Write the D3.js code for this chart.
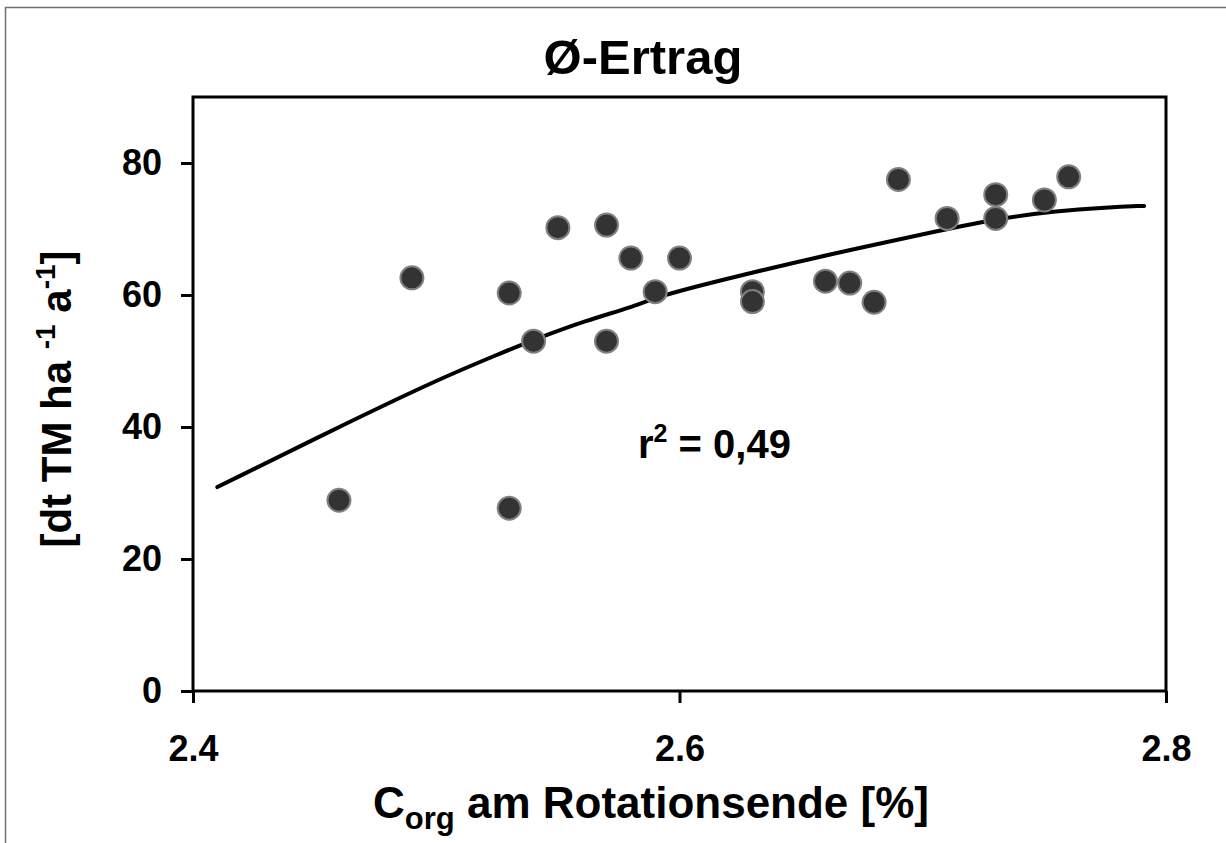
<!DOCTYPE html>
<html>
<head>
<meta charset="utf-8">
<script src="https://cdn.jsdelivr.net/npm/d3@7"></script>
<style>
  body { margin: 0; background: #fff; }
  svg { display: block; font-family: "Liberation Sans", Arial, sans-serif; font-weight: bold; }
</style>
</head>
<body>
<svg id="chart"></svg>
<script>
// measured points: C_org (%) and mean yield (dt TM/ha/a)
var corg = [2.46, 2.49, 2.53, 2.53, 2.54, 2.55, 2.57, 2.57, 2.58, 2.59, 2.60,
            2.63, 2.63, 2.66, 2.67, 2.68, 2.69, 2.71, 2.73, 2.73, 2.75, 2.76];
var ertrag = [28.9, 62.6, 60.3, 27.7, 53.0, 70.2, 70.6, 53.0, 65.6, 60.5, 65.6,
              60.5, 59.0, 62.1, 61.8, 58.9, 77.5, 71.6, 75.2, 71.6, 74.4, 77.9];

// trend line
var trendX = [2.410, 2.466, 2.502, 2.526, 2.540, 2.562, 2.581, 2.591, 2.622,
              2.662, 2.710, 2.730, 2.754, 2.776, 2.791];
var trendY = [30.9, 41.1, 47.4, 51.1, 53.2, 56.2, 58.2, 59.8, 62.7,
              66.2, 70.0, 71.5, 72.7, 73.3, 73.5];

var xTicks = [2.4, 2.6, 2.8];
var yTicks = [0, 20, 40, 60, 80];

var canvasWidth = 1226;
var canvasHeight = 843;

var svg = d3.select('#chart')
  .attr('width', canvasWidth)
  .attr('height', canvasHeight);

// outer chart border (only left/top visible)
svg.append('rect')
  .attr('x', 5.5).attr('y', 7.5)
  .attr('width', 1300).attr('height', 900)
  .attr('fill', 'none')
  .attr('stroke', '#707070')
  .attr('stroke-width', 1.5);

var xScale = d3.scaleLinear().domain([2.4, 2.8]).range([193, 1166]);
var yScale = d3.scaleLinear().domain([0, 90]).range([691, 97]);

// plot frame
svg.append('rect')
  .attr('x', xScale(2.4)).attr('y', yScale(90))
  .attr('width', xScale(2.8) - xScale(2.4))
  .attr('height', yScale(0) - yScale(90))
  .attr('fill', 'none')
  .attr('stroke', '#000')
  .attr('stroke-width', 3);

// axes
var xAxis = svg.append('g')
  .attr('transform', 'translate(0,' + yScale(0) + ')')
  .call(d3.axisBottom(xScale).tickValues(xTicks).tickSize(12).tickPadding(32)
        .tickFormat(d3.format('.1f')));
var yAxis = svg.append('g')
  .attr('transform', 'translate(' + xScale(2.4) + ',0)')
  .call(d3.axisLeft(yScale).tickValues(yTicks).tickSize(12).tickPadding(19));

[xAxis, yAxis].forEach(function(g) {
  g.select('.domain').remove();
  g.selectAll('.tick line').attr('stroke', '#000').attr('stroke-width', 3);
  g.selectAll('.tick text')
    .attr('fill', '#000')
    .style('font-family', '"Liberation Sans", Arial, sans-serif')
    .style('font-weight', 'bold')
    .style('font-size', '36px');
});

// trend line
var trend = trendX.map(function(d, i) { return [d, trendY[i]]; });
svg.append('path')
  .datum(trend)
  .attr('fill', 'none')
  .attr('stroke', '#000')
  .attr('stroke-width', 4)
  .attr('stroke-linecap', 'round')
  .attr('stroke-linejoin', 'round')
  .attr('d', d3.line()
    .x(function(d) { return xScale(d[0]); })
    .y(function(d) { return yScale(d[1]); })
    .curve(d3.curveBasis));

// points
svg.append('g')
  .selectAll('circle')
  .data(corg)
  .enter()
  .append('circle')
  .attr('cx', function(d) { return xScale(d); })
  .attr('cy', function(d, i) { return yScale(ertrag[i]); })
  .attr('r', 11.5)
  .attr('fill', '#333333')
  .attr('stroke', '#808080')
  .attr('stroke-width', 2);

// title
svg.append('text')
  .attr('x', 643)
  .attr('y', 74)
  .attr('text-anchor', 'middle')
  .style('font-size', '49px')
  .text('Ø-Ertrag');

// r² label
var r2 = svg.append('text')
  .attr('x', 638)
  .attr('y', 458)
  .style('font-size', '40px');
r2.append('tspan').text('r');
r2.append('tspan').attr('dy', -16).style('font-size', '25px').text('2');
r2.append('tspan').attr('dy', 16).text(' = 0,49');

// x axis title
var xt = svg.append('text')
  .attr('x', 651)
  .attr('y', 818)
  .attr('text-anchor', 'middle')
  .style('font-size', '44px');
xt.append('tspan').text('C');
xt.append('tspan').attr('dy', 11).style('font-size', '31px').text('org');
xt.append('tspan').attr('dy', -11).text(' am Rotationsende [%]');

// y axis title
var yt = svg.append('text')
  .attr('transform', 'translate(71,399) rotate(-90)')
  .attr('text-anchor', 'middle')
  .style('font-size', '42px');
yt.append('tspan').text('[dt TM ha ');
yt.append('tspan').attr('dy', -16).style('font-size', '28px').text('-1');
yt.append('tspan').attr('dy', 16).text(' a');
yt.append('tspan').attr('dy', -16).style('font-size', '28px').text('-1');
yt.append('tspan').attr('dy', 16).text(']');
</script>
</body>
</html>
